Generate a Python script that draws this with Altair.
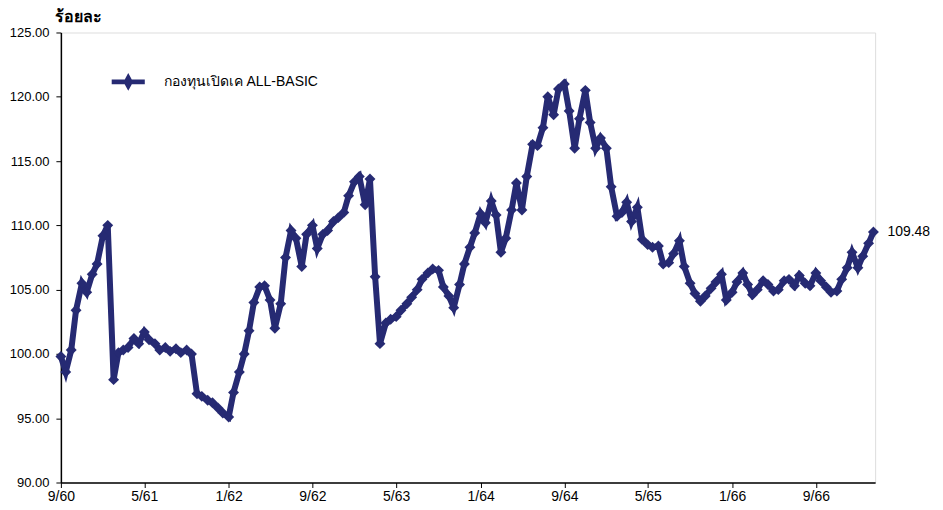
import altair as alt
import pandas as pd

series_name = "กองทุนเปิดเค ALL-BASIC"
start_date = "2017-09-01"
nav = [
    99.8, 98.6, 100.3, 103.4, 105.5, 104.8, 106.2, 107.0, 109.2, 110.0,
    98.0, 100.1, 100.3, 100.5, 101.2, 100.8, 101.7, 101.1, 100.8, 100.3,
    100.5, 100.2, 100.4, 100.1, 100.3, 100.0, 96.9, 96.7, 96.4, 96.2,
    95.8, 95.4, 95.1, 97.0, 98.6, 100.0, 101.8, 104.0, 105.2, 105.3,
    104.2, 102.0, 103.9, 107.5, 109.6, 109.0, 106.8, 109.3, 110.0, 108.2,
    109.3, 109.6, 110.3, 110.6, 111.0, 112.3, 113.4, 113.8, 111.6, 113.6,
    106.0, 100.8, 102.4, 102.7, 102.9, 103.4, 103.9, 104.4, 105.0, 105.8,
    106.3, 106.6, 106.5, 105.2, 104.5, 103.6, 105.4, 107.0, 108.3, 109.4,
    110.9, 110.2, 111.9, 110.8, 107.9, 109.0, 111.2, 113.3, 111.2, 113.8,
    116.3, 116.2, 117.6, 120.0, 118.6, 120.6, 121.0, 118.9, 116.0, 118.3,
    120.5, 118.0, 116.0, 116.8, 116.0, 113.0, 110.7, 111.0, 111.8, 110.3,
    111.4, 108.9, 108.5, 108.3, 108.4, 107.0, 107.1, 107.8, 108.8, 106.8,
    105.5, 104.7, 104.1, 104.5, 105.1, 105.6, 106.2, 104.2, 104.8, 105.6,
    106.3, 105.4, 104.6, 105.0, 105.7, 105.4, 104.9, 105.0, 105.7, 105.8,
    105.3, 106.1, 105.5, 105.3, 106.3, 105.7, 105.2, 104.8, 104.9, 105.8,
    106.7, 107.9, 106.7, 107.6, 108.6, 109.48,
]
last_label = "109.48"
y_ticks = [90, 95, 100, 105, 110, 115, 120, 125]
x_ticks = [(2017, 9), (2018, 5), (2019, 1), (2019, 9), (2020, 5),
           (2021, 1), (2021, 9), (2022, 5), (2023, 1), (2023, 9)]

dates = pd.date_range(start_date, periods=len(nav), freq="SMS")
df = pd.DataFrame({"date": dates, "value": nav, "series": series_name})
last_df = df.tail(1).assign(label=last_label)

color = "#262a73"
font = "Liberation Sans"
fs = 14

x_enc = alt.X(
    "date:T",
    scale=alt.Scale(domain=[alt.DateTime(year=2017, month=9, date=1),
                            alt.DateTime(year=2024, month=2, date=20)]),
    axis=alt.Axis(
        values=[alt.DateTime(year=y, month=m, date=1) for y, m in x_ticks],
        labelExpr="(month(datum.value)+1) + '/' + ((year(datum.value)+543) % 100)",
        title=None, grid=False, tickSize=5, labelPadding=2,
        domainColor="#000000", tickColor="#000000", labelFlush=False,
        labelOverlap=False, labelFontSize=fs, labelFont=font, labelColor="#000000",
        domainWidth=1.5,
    ),
)
y_enc = alt.Y(
    "value:Q",
    scale=alt.Scale(domain=[90, 125], nice=False, zero=False),
    axis=alt.Axis(
        values=y_ticks, format=".2f", grid=False, tickSize=5, labelPadding=7,
        domainColor="#000000", tickColor="#000000",
        labelFontSize=13, labelFont=font, labelColor="#000000", domainWidth=1.5,
        title="ร้อยละ", titleAngle=0, titleAlign="left", titleBaseline="alphabetic",
        titleX=-6, titleY=-11, titleFontSize=16, titleFontWeight="bold",
        titleColor="#000000", titleFont=font,
    ),
)

line = alt.Chart(df).mark_line(
    strokeWidth=6,
    point=alt.OverlayMarkDef(shape="diamond", size=120, filled=True, color=color),
).encode(
    x=x_enc,
    y=y_enc,
    color=alt.Color(
        "series:N",
        scale=alt.Scale(range=[color]),
        legend=alt.Legend(
            title=None, orient="none", legendX=48, legendY=30,
            symbolType="M-1,0H1M0,-0.22L0.12,0L0,0.22L-0.12,0Z",
            symbolSize=1100, symbolStrokeWidth=5,
            symbolStrokeColor=color, symbolFillColor=color,
            labelFontSize=fs, labelFont=font, labelColor="#000000",
            labelOffset=16,
        ),
    ),
)

end_text = alt.Chart(last_df).mark_text(
    align="left", baseline="middle", dx=14, fontSize=fs, font=font, color="#000000"
).encode(x="date:T", y="value:Q", text="label:N")

chart = (
    alt.layer(line, end_text)
    .properties(
        width=816, height=451,
        padding={"left": 53, "top": 24, "right": 60, "bottom": 25},
        autosize=alt.AutoSizeParams(type="none"),
    )
    .configure_view(stroke="#999999", strokeWidth=1)
    .configure(background="white")
)

chart.save("out.html", embed_options={"renderer": "svg", "actions": False})
